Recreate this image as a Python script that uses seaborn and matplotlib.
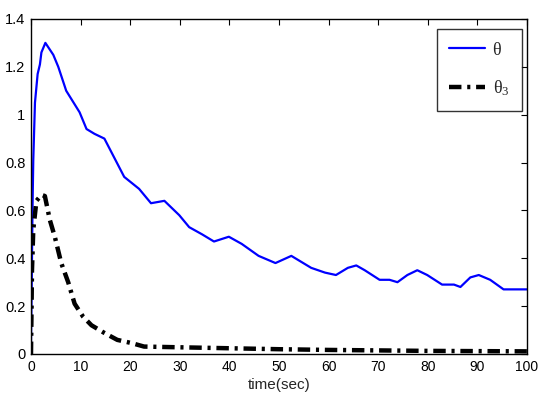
import numpy as np
import pandas as pd
import matplotlib
matplotlib.use("Agg")
import matplotlib.pyplot as plt
import seaborn as sns

# theta (blue)
t_theta = [0.0, 0.15, 0.3, 0.46, 0.8, 1.34, 1.8, 2.1, 2.9, 4.5, 5.5, 7.1, 9.8, 11.2, 12.8,
           14.8, 16.8, 18.8, 21.8, 24.2, 26.9, 29.9, 31.9, 34.5, 36.9, 39.9, 42.5, 45.9,
           49.3, 52.5, 56.5, 59.3, 61.5, 63.9, 65.6, 67.3, 70.3, 72.3, 73.9, 75.9, 77.9,
           79.9, 82.9, 85.3, 86.6, 88.6, 90.3, 92.6, 95.3, 97.6, 100.0]
v_theta = [0.05, 0.3, 0.6, 0.81, 1.05, 1.17, 1.21, 1.26, 1.30, 1.25, 1.20, 1.10, 1.01, 0.94, 0.92,
           0.90, 0.82, 0.74, 0.69, 0.63, 0.64, 0.58, 0.53, 0.50, 0.47, 0.49, 0.46, 0.41,
           0.38, 0.41, 0.36, 0.34, 0.33, 0.36, 0.37, 0.35, 0.31, 0.31, 0.30, 0.33, 0.35,
           0.33, 0.29, 0.29, 0.28, 0.32, 0.33, 0.31, 0.27, 0.27, 0.27]

# theta_3 (black dash-dot)
t_theta3 = [0.0, 0.2, 0.46, 1.1, 2.1, 2.8, 3.8, 4.8, 6.1, 7.5, 8.8, 10.5, 12.2, 14.8, 17.4,
            20.2, 22.8, 30.0, 40.0, 50.0, 60.0, 70.0, 80.0, 90.0, 100.0]
v_theta3 = [0.0, 0.35, 0.52, 0.64, 0.665, 0.66, 0.56, 0.49, 0.38, 0.30, 0.21, 0.156, 0.12, 0.088, 0.059,
            0.046, 0.031, 0.028, 0.024, 0.02, 0.017, 0.015, 0.013, 0.012, 0.011]

x_ticks = [0, 10, 20, 30, 40, 50, 60, 70, 80, 90, 100]
y_ticks = [0, 0.2, 0.4, 0.6, 0.8, 1, 1.2, 1.4]
y_labels = ["0", "0.2", "0.4", "0.6", "0.8", "1", "1.2", "1.4"]

sns.set_style("white")
plt.rcParams['font.family'] = ['Liberation Sans Narrow', 'Liberation Sans', 'DejaVu Sans']
plt.rcParams['mathtext.fontset'] = 'custom'
plt.rcParams['mathtext.rm'] = 'Liberation Serif'
plt.rcParams['mathtext.it'] = 'Liberation Serif'

df1 = pd.DataFrame({"t": t_theta, "v": v_theta})
df2 = pd.DataFrame({"t": t_theta3, "v": v_theta3})

fig = plt.figure(figsize=(5.39, 4.03), dpi=100)
ax = fig.add_axes([0.0575, 0.1216, 0.920, 0.8314])

sns.lineplot(data=df1, x="t", y="v", ax=ax, color="#0000ff", linewidth=1.6,
             label="θ")
sns.lineplot(data=df2, x="t", y="v", ax=ax, color="black", linewidth=3.2,
             linestyle=(0, (2.8, 1.3, 0.7, 1.3)), label=r"θ$_{3}$")

ax.set_xlim(0, 100)
ax.set_ylim(0, 1.4)
ax.set_xticks(x_ticks)
ax.set_xticklabels([str(v) for v in x_ticks])
ax.set_yticks(y_ticks)
ax.set_yticklabels(y_labels)
ax.set_xlabel("time(sec)", fontsize=11, labelpad=3)
ax.set_ylabel("")
ax.tick_params(direction="in", length=4, width=0.8, top=True, right=True,
               labelsize=10.5, pad=4, colors="black")
ax.tick_params(axis="x", labelsize=10)
for s in ax.spines.values():
    s.set_visible(True)
    s.set_color("black")
    s.set_linewidth(1.0)

leg = ax.legend(loc="upper right", bbox_to_anchor=(0.99, 0.97), borderaxespad=0,
                prop={"family": "Liberation Serif", "size": 13}, frameon=True,
                fancybox=False, edgecolor="black", handlelength=2.0, handletextpad=0.4,
                borderpad=0.7, labelspacing=1.1)
leg.get_frame().set_linewidth(1.0)

fig.savefig("out.png", dpi=100)
